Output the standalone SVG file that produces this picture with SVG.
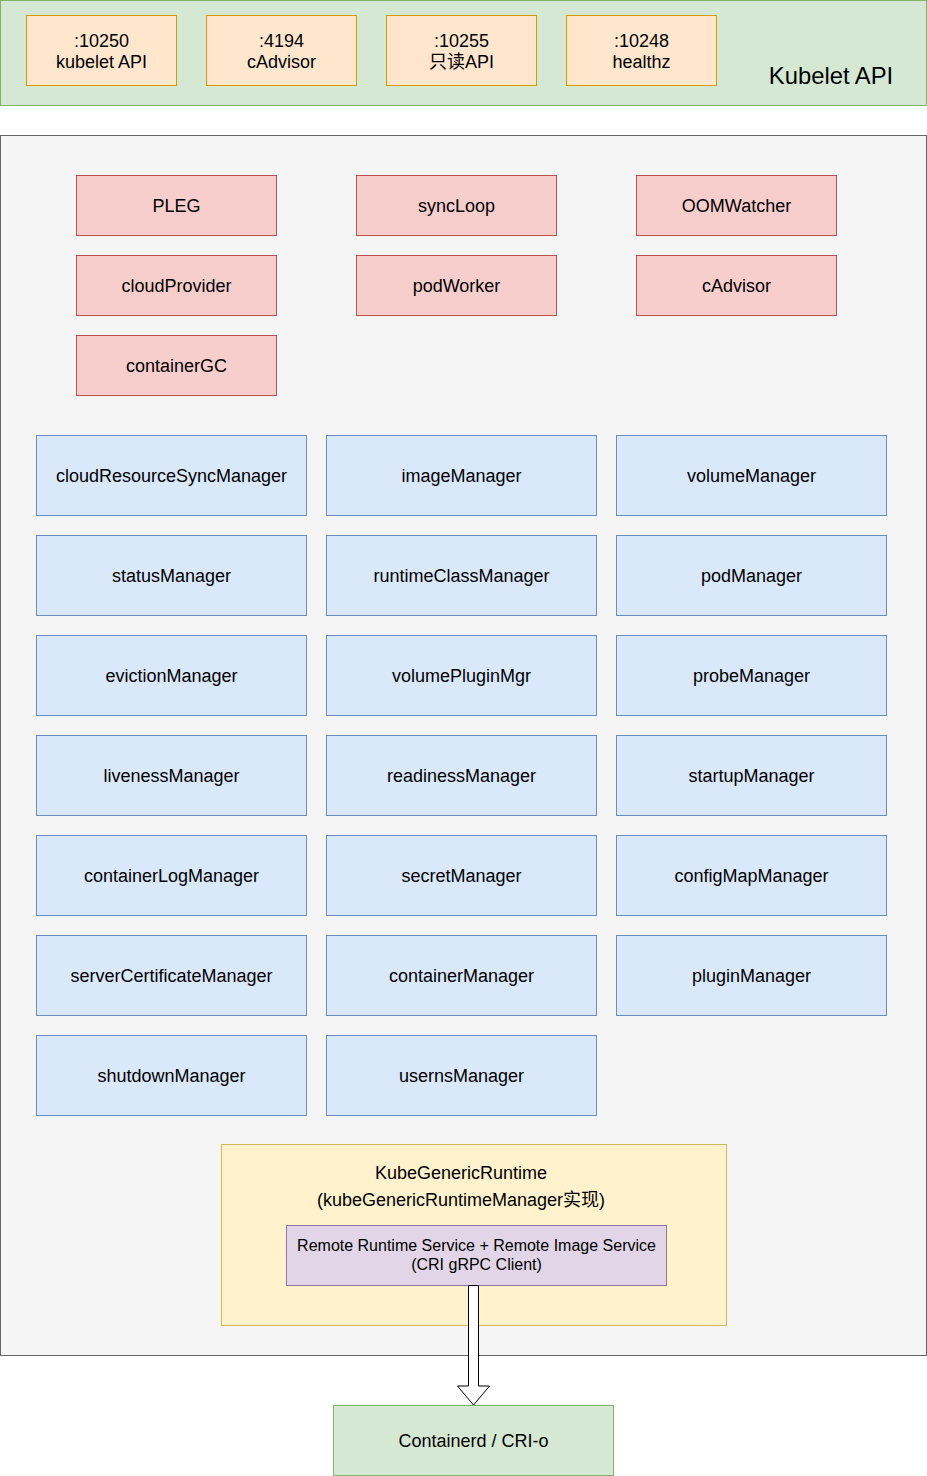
<svg xmlns="http://www.w3.org/2000/svg" width="927" height="1476" viewBox="0 0 927 1476">
<style>
text{font-family:"Liberation Sans",Arial,"Noto Sans CJK SC",sans-serif;font-size:18px;fill:#000;text-anchor:middle}
.api{fill:#ffe6cc;stroke:#d79b00;stroke-width:1}
.grn{fill:#d5e8d4;stroke:#82b366;stroke-width:1}
.red{fill:#f8cecc;stroke:#b85450;stroke-width:1}
.blu{fill:#dae8fc;stroke:#6c8ebf;stroke-width:1}
.big{font-size:23.8px}
.sm{font-size:16px}
</style>
<rect width="927" height="1476" fill="#ffffff"/>
<g id="kubelet-api">
<rect class="grn" x="0.5" y="0.5" width="926" height="105"/>
<text class="big" x="831" y="84">Kubelet API</text>
</g>
<g id="port-10250"><rect class="api" x="26.5" y="15.5" width="150" height="70"/><text x="101.5" y="46.5">:10250</text><text x="101.5" y="68">kubelet API</text></g>
<g id="port-4194"><rect class="api" x="206.5" y="15.5" width="150" height="70"/><text x="281.5" y="46.5">:4194</text><text x="281.5" y="68">cAdvisor</text></g>
<g id="port-10255"><rect class="api" x="386.5" y="15.5" width="150" height="70"/><text x="461.5" y="46.5">:10255</text><text x="461.5" y="68">只读API</text></g>
<g id="port-10248"><rect class="api" x="566.5" y="15.5" width="150" height="70"/><text x="641.5" y="46.5">:10248</text><text x="641.5" y="68">healthz</text></g>
<g id="kubelet-core">
<rect x="0.5" y="135.5" width="926" height="1220" fill="#f5f5f5" stroke="#666666"/>
</g>
<g id="pleg"><rect class="red" x="76.5" y="175.5" width="200" height="60"/><text x="176.5" y="211.7">PLEG</text></g>
<g id="syncloop"><rect class="red" x="356.5" y="175.5" width="200" height="60"/><text x="456.5" y="211.7">syncLoop</text></g>
<g id="oomwatcher"><rect class="red" x="636.5" y="175.5" width="200" height="60"/><text x="736.5" y="211.7">OOMWatcher</text></g>
<g id="cloudprovider"><rect class="red" x="76.5" y="255.5" width="200" height="60"/><text x="176.5" y="291.7">cloudProvider</text></g>
<g id="podworker"><rect class="red" x="356.5" y="255.5" width="200" height="60"/><text x="456.5" y="291.7">podWorker</text></g>
<g id="cadvisor"><rect class="red" x="636.5" y="255.5" width="200" height="60"/><text x="736.5" y="291.7">cAdvisor</text></g>
<g id="containergc"><rect class="red" x="76.5" y="335.5" width="200" height="60"/><text x="176.5" y="371.7">containerGC</text></g>
<g id="cloudresourcesyncmanager"><rect class="blu" x="36.5" y="435.5" width="270" height="80"/><text x="171.5" y="481.7">cloudResourceSyncManager</text></g>
<g id="imagemanager"><rect class="blu" x="326.5" y="435.5" width="270" height="80"/><text x="461.5" y="481.7">imageManager</text></g>
<g id="volumemanager"><rect class="blu" x="616.5" y="435.5" width="270" height="80"/><text x="751.5" y="481.7">volumeManager</text></g>
<g id="statusmanager"><rect class="blu" x="36.5" y="535.5" width="270" height="80"/><text x="171.5" y="581.7">statusManager</text></g>
<g id="runtimeclassmanager"><rect class="blu" x="326.5" y="535.5" width="270" height="80"/><text x="461.5" y="581.7">runtimeClassManager</text></g>
<g id="podmanager"><rect class="blu" x="616.5" y="535.5" width="270" height="80"/><text x="751.5" y="581.7">podManager</text></g>
<g id="evictionmanager"><rect class="blu" x="36.5" y="635.5" width="270" height="80"/><text x="171.5" y="681.7">evictionManager</text></g>
<g id="volumepluginmgr"><rect class="blu" x="326.5" y="635.5" width="270" height="80"/><text x="461.5" y="681.7">volumePluginMgr</text></g>
<g id="probemanager"><rect class="blu" x="616.5" y="635.5" width="270" height="80"/><text x="751.5" y="681.7">probeManager</text></g>
<g id="livenessmanager"><rect class="blu" x="36.5" y="735.5" width="270" height="80"/><text x="171.5" y="781.7">livenessManager</text></g>
<g id="readinessmanager"><rect class="blu" x="326.5" y="735.5" width="270" height="80"/><text x="461.5" y="781.7">readinessManager</text></g>
<g id="startupmanager"><rect class="blu" x="616.5" y="735.5" width="270" height="80"/><text x="751.5" y="781.7">startupManager</text></g>
<g id="containerlogmanager"><rect class="blu" x="36.5" y="835.5" width="270" height="80"/><text x="171.5" y="881.7">containerLogManager</text></g>
<g id="secretmanager"><rect class="blu" x="326.5" y="835.5" width="270" height="80"/><text x="461.5" y="881.7">secretManager</text></g>
<g id="configmapmanager"><rect class="blu" x="616.5" y="835.5" width="270" height="80"/><text x="751.5" y="881.7">configMapManager</text></g>
<g id="servercertificatemanager"><rect class="blu" x="36.5" y="935.5" width="270" height="80"/><text x="171.5" y="981.7">serverCertificateManager</text></g>
<g id="containermanager"><rect class="blu" x="326.5" y="935.5" width="270" height="80"/><text x="461.5" y="981.7">containerManager</text></g>
<g id="pluginmanager"><rect class="blu" x="616.5" y="935.5" width="270" height="80"/><text x="751.5" y="981.7">pluginManager</text></g>
<g id="shutdownmanager"><rect class="blu" x="36.5" y="1035.5" width="270" height="80"/><text x="171.5" y="1081.7">shutdownManager</text></g>
<g id="usernsmanager"><rect class="blu" x="326.5" y="1035.5" width="270" height="80"/><text x="461.5" y="1081.7">usernsManager</text></g>
<g id="kubegenericruntime">
<rect x="221.5" y="1144.5" width="505" height="181" fill="#fff2cc" stroke="#d6b656"/>
<text x="461" y="1179">KubeGenericRuntime</text>
<text x="461" y="1206">(kubeGenericRuntimeManager实现)</text>
</g>
<g id="remote-service">
<rect x="286.5" y="1225.5" width="380" height="60" fill="#e1d5e7" stroke="#9673a6"/>
<text class="sm" x="476.5" y="1251">Remote Runtime Service + Remote Image Service</text>
<text class="sm" x="476.5" y="1270">(CRI gRPC Client)</text>
</g>
<g id="containerd">
<rect class="grn" x="333.5" y="1405.5" width="280" height="70"/>
<text x="473.5" y="1446.7">Containerd / CRI-o</text>
</g>
<g id="connectors">
<polygon points="468.5,1285.5 478.5,1285.5 478.5,1386 489.5,1386 473.5,1405 457.5,1386 468.5,1386" fill="#ffffff" stroke="#000000" stroke-width="1" stroke-linejoin="miter"/>
</g>
</svg>
